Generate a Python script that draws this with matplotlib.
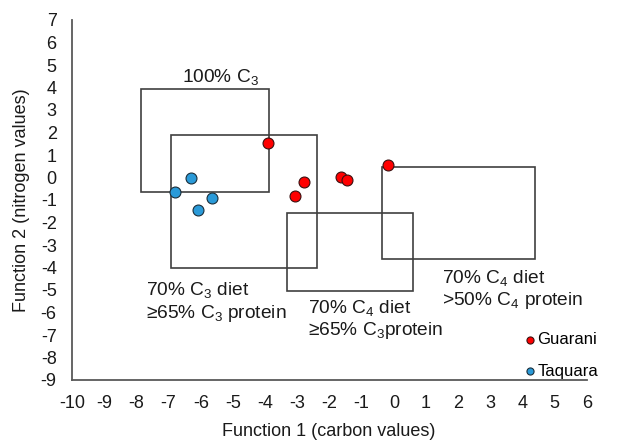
import matplotlib
matplotlib.use("Agg")
import matplotlib.pyplot as plt
from matplotlib.patches import Rectangle

plt.rcParams["font.family"] = ["Liberation Sans", "DejaVu Sans"]
plt.rcParams["mathtext.fontset"] = "custom"
plt.rcParams["mathtext.rm"] = "Liberation Sans"
plt.rcParams["axes.unicode_minus"] = False

# Points (function 1 = carbon, function 2 = nitrogen)
guarani_x = [-3.90, -2.80, -3.07, -1.65, -1.45, -0.18]
guarani_y = [1.52, -0.19, -0.82, 0.04, -0.11, 0.56]
taquara_x = [-6.31, -6.80, -5.66, -6.08]
taquara_y = [-0.04, -0.63, -0.92, -1.44]

# Diet boxes: x0, x1, y0, y1
box_x0 = [-7.85, -6.93, -3.33, -0.36]
box_x1 = [-3.87, -2.40, 0.58, 4.38]
box_y0 = [-0.63, -4.04, -5.04, -3.64]
box_y1 = [3.92, 1.89, -1.59, 0.45]

# Box labels (y = baseline of the last line)
label_text = [
    r"100% C$\mathregular{_3}$",
    "70% C$\\mathregular{_3}$ diet\n\u226565% C$\\mathregular{_3}$ protein",
    "70% C$\\mathregular{_4}$ diet\n\u226565% C$\\mathregular{_3}$protein",
    "70% C$\\mathregular{_4}$ diet\n>50% C$\\mathregular{_4}$ protein",
]
label_x = [-5.38, -7.70, -2.66, 1.48]
label_y = [4.26, -6.23, -7.0, -5.67]
label_ha = ["center", "left", "left", "left"]

fig = plt.figure(figsize=(6.19, 4.43), dpi=100)
ax = fig.add_axes([72 / 619, 63 / 443, 515 / 619, 360 / 443])

for x0, x1, y0, y1 in zip(box_x0, box_x1, box_y0, box_y1):
    ax.add_patch(Rectangle((x0, y0), x1 - x0, y1 - y0, fill=False,
                           edgecolor="#3f3f3f", linewidth=1.2, zorder=2))

for t, x, y, ha in zip(label_text, label_x, label_y, label_ha):
    ax.text(x, y, t, ha=ha, va="baseline", fontsize=13.8, color="#1a1a1a",
            linespacing=1.15)

ax.scatter(guarani_x, guarani_y, s=62, c="#ff0000", edgecolors="#3a1010",
           linewidths=0.8, zorder=3, label="Guarani")
ax.scatter(taquara_x, taquara_y, s=62, c="#2a9ad8", edgecolors="#1a2e3a",
           linewidths=0.8, zorder=3, label="Taquara")

ax.set_xlim(-10, 6)
ax.set_ylim(-9, 7)
ax.set_xticks(range(-10, 7))
ax.set_yticks(range(-9, 8))
ax.tick_params(length=0, labelsize=13, colors="#1a1a1a")
ax.tick_params(axis="x", pad=11)
ax.tick_params(axis="y", pad=11)
for side in ["top", "right"]:
    ax.spines[side].set_visible(False)
for side in ["left", "bottom"]:
    ax.spines[side].set_color("#595959")
    ax.spines[side].set_linewidth(1.3)

fig.text(329 / 619, 1 - 431.5 / 443, "Function 1 (carbon values)",
         ha="center", va="center", fontsize=13, color="#1a1a1a")
fig.text(21.5 / 619, 1 - 200 / 443, "Function 2 (nitrogen values)",
         ha="center", va="center", rotation=90, fontsize=13, color="#1a1a1a")

leg = ax.legend(loc="lower right", bbox_to_anchor=(1.035, -0.015), frameon=False,
                fontsize=12, markerscale=0.65, handletextpad=0.05,
                labelspacing=1.0, handlelength=0.8, borderaxespad=0)

fig.savefig("out.png", dpi=100)
